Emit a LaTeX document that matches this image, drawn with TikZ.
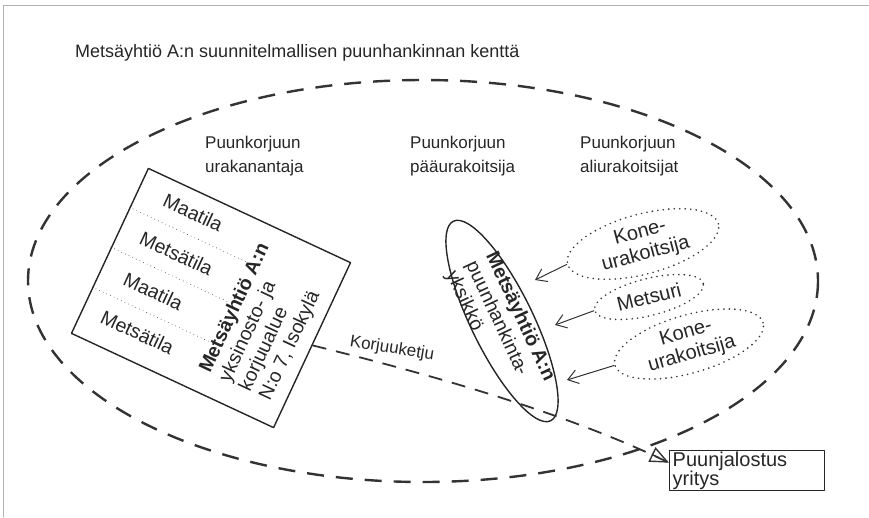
\documentclass[tikz,border=0pt]{standalone}
\usepackage{fontspec}
\setmainfont{Liberation Sans}
\usetikzlibrary{arrows.meta,shapes.geometric,calc}

\newcommand{\fsz}[2]{\fontsize{#1}{#2}\selectfont}

\begin{document}
\begin{tikzpicture}[line cap=round,line join=round,x=1pt,y=-1pt,
		kentta/.style={draw=black!80,line width=2.4pt,dash pattern=on 17pt off 12pt,line cap=butt},
		ketju/.style={draw=black!80,line width=1.8pt,dash pattern=on 14pt off 10pt,line cap=butt},
		karki/.style={draw=black!80,line width=1.4pt,-{Triangle[open,length=19pt,width=16pt]}},
		otsikko/.style={font=\fsz{17}{24},align=left,inner sep=0,text=black!85},
		tila/.style={font=\fsz{19.5}{22},inner sep=0,text=black!85},
		raja/.style={draw=black!70,line width=0.9pt,dash pattern=on 0pt off 4pt},
		urakoitsija/.style={ellipse,draw=black!80,line width=1.8pt,dash pattern=on 0pt off 5.5pt,inner sep=0,align=center,font=\fsz{20}{22},text=black!85},
		nuoli/.style={draw=black!80,line width=1pt,-{Straight Barb[length=10pt,width=14pt]}}]
	\useasboundingbox (0,0) rectangle (869,517);
	\draw[gray!60,line width=1.2pt] (3.5,517) -- (3.5,5.5) -- (869,5.5);
	\node[anchor=base west,font=\fsz{18}{20},inner sep=0,text=black!85] (otsikko) at (75,57) {Metsäyhtiö A:n suunnitelmallisen puunhankinnan kenttä};
	\draw[kentta] (423,281) ellipse [x radius=395, y radius=201];
	% otsikot
	\node[otsikko,anchor=west] (antaja) at (205,156) {Puunkorjuun\\urakanantaja};
	\node[otsikko,anchor=west] (paa) at (410,156) {Puunkorjuun\\pääurakoitsija};
	\node[otsikko,anchor=west] (ali) at (580,156) {Puunkorjuun\\aliurakoitsijat};
	% korjuualue
	\node[draw=black!85,line width=1.4pt,rotate=-25,minimum width=223,minimum height=182,inner sep=0] (alue) at (211,298) {};
	\begin{scope}[shift={(alue.north west)},rotate=-25,transform shape]
		\foreach \v in {44,88,132}
			\draw[raja] (0,\v) -- (131,\v);
		\node[tila] (tila1) at (60,22) {Maatila};
		\node[tila] (tila2) at (62,66) {Metsätila};
		\node[tila] (tila3) at (57,110) {Maatila};
		\node[tila] (tila4) at (60,154) {Metsätila};
		\node[tila,rotate=90,anchor=north west,align=left] (yksinosto) at (129,161) {\textbf{Metsäyhtiö A:n}\\yksinosto- ja\\korjuualue\\N:o 7, Isokylä};
	\end{scope}
	% paaurakoitsija
	\node[ellipse,draw=black!85,line width=1.4pt,minimum width=222,minimum height=62,inner sep=0,rotate=-64] (yksikko) at (502,321) {};
	\node[tila,rotate=-65,align=left] (yksteksti) at (500,326) {\textbf{Metsäyhtiö A:n}\\puunhankinta-\\yksikkö};
	% aliurakoitsijat
	\node[urakoitsija,rotate=15,minimum width=156,minimum height=60] (kone1) at (643,244) {Kone-\\urakoitsija};
	\node[urakoitsija,rotate=14,minimum width=112,minimum height=37] (metsuri) at (649,297) {Metsuri};
	\node[urakoitsija,rotate=16,minimum width=154,minimum height=58] (kone2) at (689,344) {Kone-\\urakoitsija};
	\coordinate (k1) at (535,280);
	\coordinate (m1) at (555,325);
	\coordinate (k2) at (567,380);
	\draw[nuoli] (kone1.west) -- (k1);
	\draw[nuoli] (metsuri.west) -- (m1);
	\draw[nuoli] (kone2.west) -- (k2);
	% korjuuketju
	\node[draw=black!85,line width=1.4pt,anchor=north west,minimum width=155,minimum height=40,text width=149,inner xsep=3,inner ysep=1,align=left,font=\fsz{20}{19},text=black!85] (jalostus) at (669,450) {Puunjalostus\\yritys};
	\coordinate (kohde) at ([yshift=8pt]jalostus.west);
	\draw[ketju] (alue.east) .. controls (420,372) and (560,410) .. (kohde);
	\draw[karki] ($(kohde)!12pt!(560,410)$) -- (kohde);
	\node[font=\fsz{17}{20},rotate=-9,inner sep=0,text=black!85] (ketjuteksti) at (392,349) {Korjuuketju};
\end{tikzpicture}
\end{document}
